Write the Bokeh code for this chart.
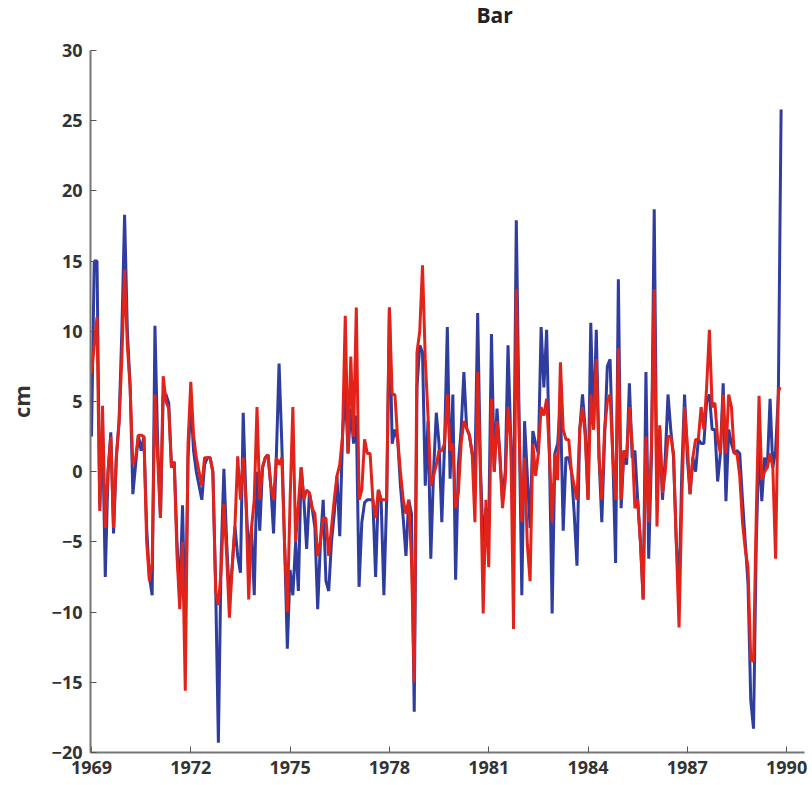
from bokeh.plotting import figure
from bokeh.models import Range1d, FixedTicker, Title
from bokeh.embed import file_html
from bokeh.resources import INLINE

# Monthly sea-level anomalies (cm), starting January 1969
start_year = 1969
blue_values = [
    2.5, 15, 15, -2.5, 3, -7.5, 0, 2.8, -4.4, 1, 3.6, 10,
    18.3, 10, 6.2, -1.6, 0.5, 2.6, 1.5, 2.5, -4, -7.5, -8.8, 10.4,
    2, -3.3, 5.5, 5.5, 4.9, 0.3, 0.7, -5, -9, -2.4, -11.5, 1,
    5, 1.5, 0, -1, -2, 0.5, 1, 1, 0, -8, -19.3, -6,
    0.2, -5, -9, -6.8, -3.9, -6, -7.2, 4.2, -2, -6, -4, -8.8,
    0, -4.2, 0.3, 1, 1.2, -1, -4.4, 1, 7.7, 2, -5.2, -12.6,
    -7, -8.8, -5, -8.5, 0.3, -2, -5.5, -1.5, -2.6, -4, -9.8, -5,
    -2, -7.8, -8.5, -5, -3, -0.3, -4.6, 2.5, 6, 1.3, 4.5, 2,
    4, -8.2, -3.6, -2.2, -2, -2, -2, -7.5, -1.3, -2, -8.8, -2,
    11.7, 2, 3, 2.3, -1, -3.3, -6, -2, -3, -17.1, 6, 9,
    8.5, -1, 3.6, -6.2, 0, 4.2, 2, -3.6, 2, 10.3, -0.5, 5.5,
    -7.7, 0.5, 3, 7.1, 3.1, 2.6, 1.3, 0, 11.3, 0.3, -5, -2.6,
    -4, 9.8, 0, 4.5, 1.3, -2, 0, 9, 2.3, -3, 17.9, 4,
    -8.8, 3.6, -0.3, -4, 2.9, 2, 1.3, 10.3, 6, 10.1, 1.3, -10.1,
    1.3, 2, 5, -4.2, 1, 1, 0, -3, -6.7, 3, 5.5, 3,
    -2, 10.6, 3, 10.1, 1, -3.6, 2.3, 7.5, 8, 1, -6.5, 13.7,
    -2.6, 1.5, 0.5, 6.3, 1, 1.5, -2, -5, -9.1, 7.1, -6.2, 1,
    18.7, -2, 3, -2, 1, 5.5, 3, 1, -5, -8.5, 0, 5.5,
    1, -1.6, 1, 0, 2.3, 2, 2, 5, 5.5, 3, 3, -0.7,
    1.3, 6.3, -2.1, 3, 2, 1.3, 1.5, 1.3, -2, -5, -8, -16.3,
    -18.3, -5, 2, -2.1, 1, 0.3, 5.2, 0.3, 1.5, 5.5, 25.8,
]
red_values = [
    7, 9, 11, -2.8, 4.7, -4, 0, 2.5, -4, 1, 3.5, 8,
    14.4, 9, 6, 0.5, 1, 2.6, 2.6, 2.5, -5, -7.8, -6.5, 5.5,
    1, -3.3, 6.8, 5, 4.5, 0.3, 0.7, -6, -9.8, -5, -15.6, 2,
    6.4, 2.6, 1, 0, -1, 1, 1, 1, 0, -8.5, -9.5, -7,
    -2.3, -6, -10.4, -6.8, -3.9, 1.1, -2, 1, -2, -9.1, -4, -2,
    4.6, -2, 0.3, 1, 1.2, -1, -2, 1, 0.5, 1, -5.2, -10,
    -2, 4.6, -5, -2.3, 0.3, -2, -1.3, -1.5, -2.6, -3, -6, -5,
    -3.3, -3.3, -6, -4, -2, -0.3, 0.5, 2.5, 11.1, 1.3, 8.2, 2.5,
    11.7, -2, -1.3, 2.3, 1.3, 1.3, -2, -3.3, -1.3, -2, -2, -2,
    11.7, 5.5, 5.5, 2.3, 0, -2, -3, -2, -6.2, -15, 8.5, 10,
    14.7, 8, 4, -1, -0.3, 0.5, 1.5, 1.5, 2, 5.5, 1.5, 2,
    -2.6, -1.5, 2, 3.6, 3.1, 2.6, 1.3, -3.6, 7.1, 0, -10.1, -2,
    -6.8, 5.2, 0, 3.6, 1.3, -2.6, -0.6, 4.6, 2.3, -11.2, 13, 3,
    -3.6, 1, -5.2, -7.8, 2, -0.3, 1.3, 4.6, 4, 5.2, 1.3, -3.6,
    1.3, -0.6, 7.8, 3, 2.3, 2.3, 0, -1, -2, 3, 4.6, 2.5,
    -2, 5.5, 3, 8, 1, -2, 3, 5, 5.5, 1, -2, 8.8,
    -2, 1.5, 1, 4.6, 2, -2.6, -2, -5, -9.1, 2.5, -3.6, 2,
    13, -3.9, 3.3, -1.5, 0, 2.5, 2.5, 1.3, -5, -11.1, -2, 4.6,
    2, -1.6, 1, 2.3, 2.3, 4.6, 3, 6, 10.1, 4.6, 4.9, 2.3,
    1.3, 5.5, 1.3, 5.5, 4.6, 1.3, 1.3, -0.3, -3.6, -5.5, -6.8, -13.4,
    -13.5, -3, 5.4, -0.6, 0, 0.3, 1.3, 0.3, -6.2, 5.9, 5.9,
]
x_ticks = [1969, 1972, 1975, 1978, 1981, 1984, 1987, 1990]
y_ticks = [-20, -15, -10, -5, 0, 5, 10, 15, 20, 25, 30]
title_text = "Bar"
y_label = "cm"

times = [start_year + i / 12 for i in range(len(blue_values))]

FONT = "Open Sans"

p = figure(frame_width=714, frame_height=702, output_backend="svg",
           toolbar_location=None,
           x_range=Range1d(1968.97, 1990.54), y_range=Range1d(-20, 30),
           min_border_left=90, min_border_right=8, min_border_top=50,
           min_border_bottom=33)
p.outline_line_color = None
p.xgrid.visible = False
p.ygrid.visible = False
p.background_fill_color = "white"

p.line(times, blue_values, line_color="#2f3d9e", line_width=3)
p.line(times, red_values, line_color="#e2231a", line_width=3)

# blank spacer between the frame and the title
p.add_layout(Title(text=" ", text_font=FONT, text_font_size="10px",
                   standoff=4), "above")

p.title.text = title_text
p.title.align = "left"
p.title.offset = 386
p.title.vertical_align = "top"
p.title.standoff = 0
p.title.text_font = FONT
p.title.text_font_size = "21px"
p.title.text_font_style = "bold"
p.title.text_color = "#222222"

for ax in (p.xaxis[0], p.yaxis[0]):
    ax.axis_line_color = "#777777"
    ax.axis_line_width = 2
    ax.major_tick_line_color = "#555555"
    ax.major_tick_line_width = 1
    ax.major_tick_in = 6
    ax.major_tick_out = 0
    ax.minor_tick_line_color = None
    ax.major_label_text_font = FONT
    ax.major_label_text_font_size = "18px"
    ax.major_label_text_color = "#333333"
    ax.major_label_text_font_style = "bold"

p.xaxis[0].ticker = FixedTicker(ticks=x_ticks)
p.yaxis[0].ticker = FixedTicker(ticks=y_ticks)
p.xaxis[0].major_label_standoff = 8
p.yaxis[0].major_label_standoff = 8

p.yaxis[0].axis_label = y_label
p.yaxis[0].axis_label_text_font = FONT
p.yaxis[0].axis_label_text_font_size = "22px"
p.yaxis[0].axis_label_text_font_style = "bold"
p.yaxis[0].axis_label_text_color = "#333333"
p.yaxis[0].axis_label_standoff = 13

open("out.html", "w").write(file_html(p, INLINE))
